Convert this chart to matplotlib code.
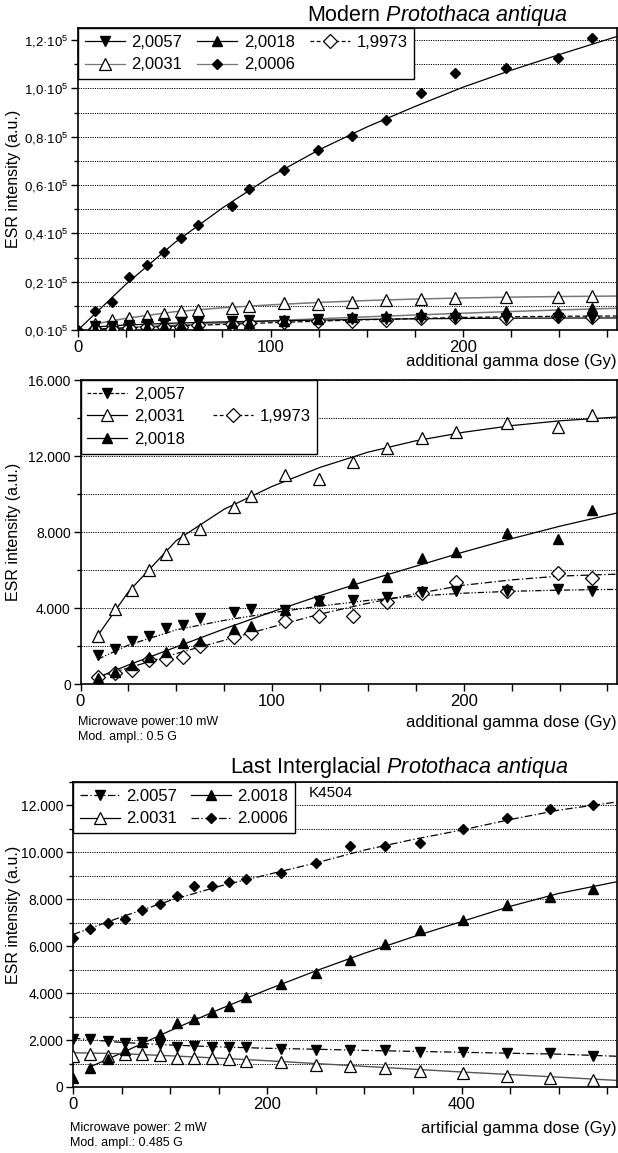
import matplotlib
matplotlib.use('Agg')
import matplotlib.pyplot as plt
from matplotlib.lines import Line2D
from matplotlib.ticker import MultipleLocator

plt.rcParams['font.family'] = ['Liberation Sans', 'DejaVu Sans']
plt.rcParams['mathtext.fontset'] = 'custom'
plt.rcParams['mathtext.rm'] = 'Liberation Sans'
plt.rcParams['mathtext.it'] = 'Liberation Sans:italic'
plt.rcParams['mathtext.default'] = 'regular'

# ---------------- data: modern P. antiqua (dose in Gy) ----------------
dose_mod = [0, 8.9, 17.8, 26.7, 35.6, 44.5, 53.4, 62.3, 80.1, 89, 106.8,
            124.6, 142.4, 160.2, 178, 195.8, 222.5, 249.2, 267]
mod_2006 = [0, 7700, 11400, 22000, 27100, 32300, 38100, 43300, 51500, 58400,
            66100, 74400, 80400, 87000, 98000, 106500, 108300, 112500, 120700]
mod_2006_fit_x = [0, 25, 50, 75, 100, 125, 150, 175, 200, 225, 250, 280]
mod_2006_fit_y = [0, 19000, 36000, 50500, 63500, 74500, 84000, 92500, 100500,
                  107500, 114000, 121500]

# small signals (same measurements, shown in both upper panels)
dose_small = dose_mod[1:]
mod_2057 = [1530, 1830, 2240, 2540, 2940, 3120, 3470, 3770, 3950, 3910, 4390,
            4440, 4580, 4840, 4880, 4880, 5000, 4910]
mod_2031 = [2540, 3950, 4930, 5990, 6820, 7700, 8170, 9310, 9900, 11000, 10810,
            11690, 12410, 12930, 13240, 13730, 13540, 14160]
mod_2018 = [300, 650, 1000, 1410, 1660, 2150, 2240, 2910, 3060, 3910, 4400,
            5320, 5630, 6640, 6940, 7960, 7610, 9160]
mod_1973 = [390, 560, 740, 1270, 1300, 1440, 2010, 2470, 2710, 3330, 3560,
            3560, 4300, 4790, 5350, 4880, 5850, 5580]

fit_x = [9, 25, 50, 75, 100, 125, 150, 175, 200, 225, 250, 280]
fit_2057 = [1300, 2050, 2850, 3350, 3750, 4100, 4400, 4620, 4780, 4880, 4940, 4980]
fit_2031 = [2550, 4850, 7550, 9200, 10400, 11400, 12200, 12800, 13250, 13600,
            13850, 14050]
fit_2018 = [350, 1000, 1950, 2900, 3800, 4650, 5450, 6200, 6950, 7650, 8300, 9000]
fit_1973 = [350, 850, 1600, 2300, 3000, 3680, 4250, 4750, 5200, 5480, 5680, 5780]

# ---------------- data: Last Interglacial P. antiqua (K4504) ----------------
dose_li = [0, 17.85, 35.7, 53.55, 71.4, 89.25, 107.1, 124.95, 142.8, 160.65,
           178.5, 214.2, 249.9, 285.6, 321.3, 357, 401.6, 446.3, 490.9, 535.5]
li_2057 = [2050, 2050, 1980, 1860, 1900, 1820, 1720, 1745, 1715, 1715, 1715,
           1600, 1580, 1575, 1560, 1500, 1475, 1450, 1430, 1340]
li_2031 = [1320, 1390, 1320, 1400, 1400, 1360, 1250, 1250, 1250, 1180, 1110,
           1080, 940, 910, 790, 700, 610, 470, 370, 300]
li_2018 = [370, 795, 1180, 1575, 1930, 2240, 2740, 2880, 3180, 3450, 3840,
           4410, 4880, 5400, 6090, 6680, 7110, 7750, 8100, 8460]
li_2006 = [6330, 6740, 7010, 7180, 7560, 7790, 8130, 8550, 8550, 8740, 8850,
           9130, 9550, 10260, 10260, 10410, 10980, 11460, 11830, 12030]

li_fit_x = [0, 50, 100, 150, 200, 250, 300, 350, 400, 450, 500, 560]
li_fit_2057 = [2080, 1900, 1790, 1710, 1650, 1610, 1560, 1520, 1480, 1440, 1400, 1310]
li_fit_2031 = [1460, 1420, 1330, 1230, 1120, 1000, 880, 760, 640, 530, 420, 280]
li_fit_2018_x = [20, 50, 100, 150, 200, 250, 300, 350, 400, 450, 500, 560]
li_fit_2018 = [900, 1450, 2400, 3300, 4150, 4950, 5700, 6400, 7050, 7700, 8250, 8750]
li_fit_2006 = [6500, 7250, 7950, 8550, 9050, 9550, 10100, 10550, 10950, 11400,
               11800, 12150]

top_yticks = [0, 20000, 40000, 60000, 80000, 100000, 120000]
top_ylabels = ['0,0·10$^5$', '0,2·10$^5$', '0,4·10$^5$', '0,6·10$^5$',
               '0,8·10$^5$', '1,0·10$^5$', '1,2·10$^5$']
mid_yticks = [0, 4000, 8000, 12000, 16000]
mid_ylabels = ['0', '4.000', '8.000', '12.000', '16.000']
bot_yticks = [0, 2000, 4000, 6000, 8000, 10000, 12000]
bot_ylabels = ['0', '2.000', '4.000', '6.000', '8.000', '10.000', '12.000']

# ---------------- styles ----------------
DD = (0, (6, 2, 1, 2))            # dash-dot
DDD = (0, (5, 1.5, 1, 1.5, 1, 1.5))  # dash-dot-dot
sty_2057 = dict(marker='v', ms=6.5, mfc='k', mec='k')
sty_2031 = dict(marker='^', ms=8, mfc='white', mec='k', mew=0.9)
sty_2018 = dict(marker='^', ms=6.5, mfc='k', mec='k')
sty_1973 = dict(marker='D', ms=7, mfc='white', mec='k', mew=0.9)
sty_2006 = dict(marker='D', ms=5.5, mfc='k', mec='k')

W, H = 618, 1153
fig = plt.figure(figsize=(W / 100, H / 100), dpi=100)


def px_axes(l, t, r, b):
    return fig.add_axes([l / W, 1 - b / H, (r - l) / W, (b - t) / H])


def style(ax, xmax, xmaj, xmin, ymax, yticks, ylabels, ymin, ysize):
    ax.set_xlim(0, xmax)
    ax.set_ylim(0, ymax)
    ax.xaxis.set_major_locator(MultipleLocator(xmaj))
    ax.xaxis.set_minor_locator(MultipleLocator(xmin))
    ax.set_yticks(yticks)
    ax.set_yticklabels(ylabels)
    ax.yaxis.set_minor_locator(MultipleLocator(ymin))
    ax.tick_params(which='both', direction='out', width=1)
    ax.tick_params(axis='x', which='both', length=5, labelsize=12, pad=2)
    ax.tick_params(axis='y', which='major', length=5, labelsize=ysize, pad=2)
    ax.tick_params(axis='y', which='minor', length=3)
    for s in ax.spines.values():
        s.set_linewidth(1.2)
    ax.grid(True, axis='y', which='both', color='k',
            linestyle=(0, (1.2, 1.2)), linewidth=0.7)
    ax.grid(False, axis='x', which='both')
    ax.set_axisbelow(True)


def pts(ax, x, y, st):
    ax.plot(x, y, linestyle='none', zorder=4, **st)


def proxy(st, ls='-', color='k'):
    return Line2D([], [], linestyle=ls, color=color, linewidth=0.9, **st)


blank = Line2D([], [], linestyle='none')
leg_kw = dict(loc='upper left', bbox_to_anchor=(0, 1), borderaxespad=0,
              fontsize=12, frameon=True, fancybox=False, framealpha=1,
              edgecolor='k', numpoints=1, handlelength=2.4, handletextpad=0.4,
              labelspacing=0.46, borderpad=0.4)

# ===== panel 1: modern, all signals =====
ax1 = px_axes(78, 28, 617, 330)
style(ax1, 280, 100, 25, 125000, top_yticks, top_ylabels, 10000, 9.5)
ax1.plot(mod_2006_fit_x, mod_2006_fit_y, color='k', lw=0.9)
ax1.plot(fit_x, fit_2031, color='#777777', lw=1.1)
ax1.plot(fit_x, fit_2018, color='#777777', lw=1.1)
ax1.plot(fit_x, fit_2057, color='k', lw=0.9)
ax1.plot(fit_x, fit_1973, color='k', lw=0.9, linestyle=(0, (4, 2)))
pts(ax1, dose_small, mod_1973, sty_1973)
pts(ax1, dose_small, mod_2031, sty_2031)
pts(ax1, dose_small, mod_2057, sty_2057)
pts(ax1, dose_small, mod_2018, sty_2018)
pts(ax1, dose_mod, mod_2006, sty_2006)
h1 = [proxy(sty_2057), proxy(sty_2031, color='#777777'),
      proxy(sty_2018), proxy(sty_2006, color='#777777'),
      proxy(sty_1973, ls=(0, (3, 2))), blank]
l1 = ['2,0057', '2,0031', '2,0018', '2,0006', '1,9973', '']
ax1.legend(h1, l1, ncol=3, columnspacing=0.9, **leg_kw).set_zorder(6)

# ===== panel 2: modern, small signals =====
ax2 = px_axes(80.5, 380, 617, 684)
style(ax2, 280, 100, 25, 16000, mid_yticks, mid_ylabels, 2000, 10)
ax2.plot(fit_x, fit_2031, color='k', lw=0.9)
ax2.plot(fit_x, fit_2018, color='k', lw=0.9)
ax2.plot(fit_x, fit_2057, color='k', lw=0.9, linestyle=DDD)
ax2.plot(fit_x, fit_1973, color='k', lw=0.9, linestyle=DD)
pts(ax2, dose_small, mod_1973, sty_1973)
pts(ax2, dose_small, mod_2031, sty_2031)
pts(ax2, dose_small, mod_2057, sty_2057)
pts(ax2, dose_small, mod_2018, sty_2018)
h2 = [proxy(sty_2057, ls=(0, (3, 1.5))), proxy(sty_2031), proxy(sty_2018),
      blank, proxy(sty_1973, ls=(0, (3, 2))), blank]
l2 = ['2,0057', '2,0031', '2,0018', '', '1,9973', '']
ax2.legend(h2, l2, ncol=2, columnspacing=1.7, **leg_kw).set_zorder(6)

# ===== panel 3: Last Interglacial =====
ax3 = px_axes(73, 782, 617, 1087)
style(ax3, 560, 200, 50, 13000, bot_yticks, bot_ylabels, 1000, 10)
ax3.plot(li_fit_x, li_fit_2006, color='k', lw=0.9, linestyle=DD)
ax3.plot(li_fit_2018_x, li_fit_2018, color='k', lw=0.9)
ax3.plot(li_fit_x, li_fit_2057, color='k', lw=0.9, linestyle=DD)
ax3.plot(li_fit_x, li_fit_2031, color='#555555', lw=1.0)
pts(ax3, dose_li, li_2031, sty_2031)
pts(ax3, dose_li, li_2057, sty_2057)
pts(ax3, dose_li, li_2018, sty_2018)
pts(ax3, dose_li, li_2006, sty_2006)
h3 = [proxy(sty_2057, ls=DD), proxy(sty_2031), proxy(sty_2018),
      proxy(sty_2006, ls=DD)]
l3 = ['2.0057', '2.0031', '2.0018', '2.0006']
ax3.legend(h3, l3, ncol=2, columnspacing=0.8, **leg_kw).set_zorder(6)

# ===== texts =====
def ftxt(x, y, s, **kw):
    fig.text(x / W, 1 - y / H, s, **kw)


ftxt(568, 15, 'Modern $\\mathit{Protothaca\\ antiqua}$', fontsize=15.5,
     ha='right', va='center')
ftxt(568, 768, 'Last Interglacial $\\mathit{Protothaca\\ antiqua}$',
     fontsize=15.5, ha='right', va='center')
ftxt(309, 793, 'K4504', fontsize=11, ha='left', va='center')

for yc in (179, 532, 915):
    ftxt(14, yc, 'ESR intensity (a.u.)', fontsize=11.5, rotation=90,
         ha='center', va='center')

ftxt(617, 362, 'additional gamma dose (Gy)', fontsize=12, ha='right', va='center')
ftxt(617, 722, 'additional gamma dose (Gy)', fontsize=12, ha='right', va='center')
ftxt(617, 1128, 'artificial gamma dose (Gy)', fontsize=12, ha='right', va='center')

ftxt(78, 722, 'Microwave power:10 mW', fontsize=9, ha='left', va='center')
ftxt(78, 737, 'Mod. ampl.: 0.5 G', fontsize=9, ha='left', va='center')
ftxt(70, 1128, 'Microwave power: 2 mW', fontsize=9, ha='left', va='center')
ftxt(70, 1143, 'Mod. ampl.: 0.485 G', fontsize=9, ha='left', va='center')

fig.savefig('out.png', dpi=100)
